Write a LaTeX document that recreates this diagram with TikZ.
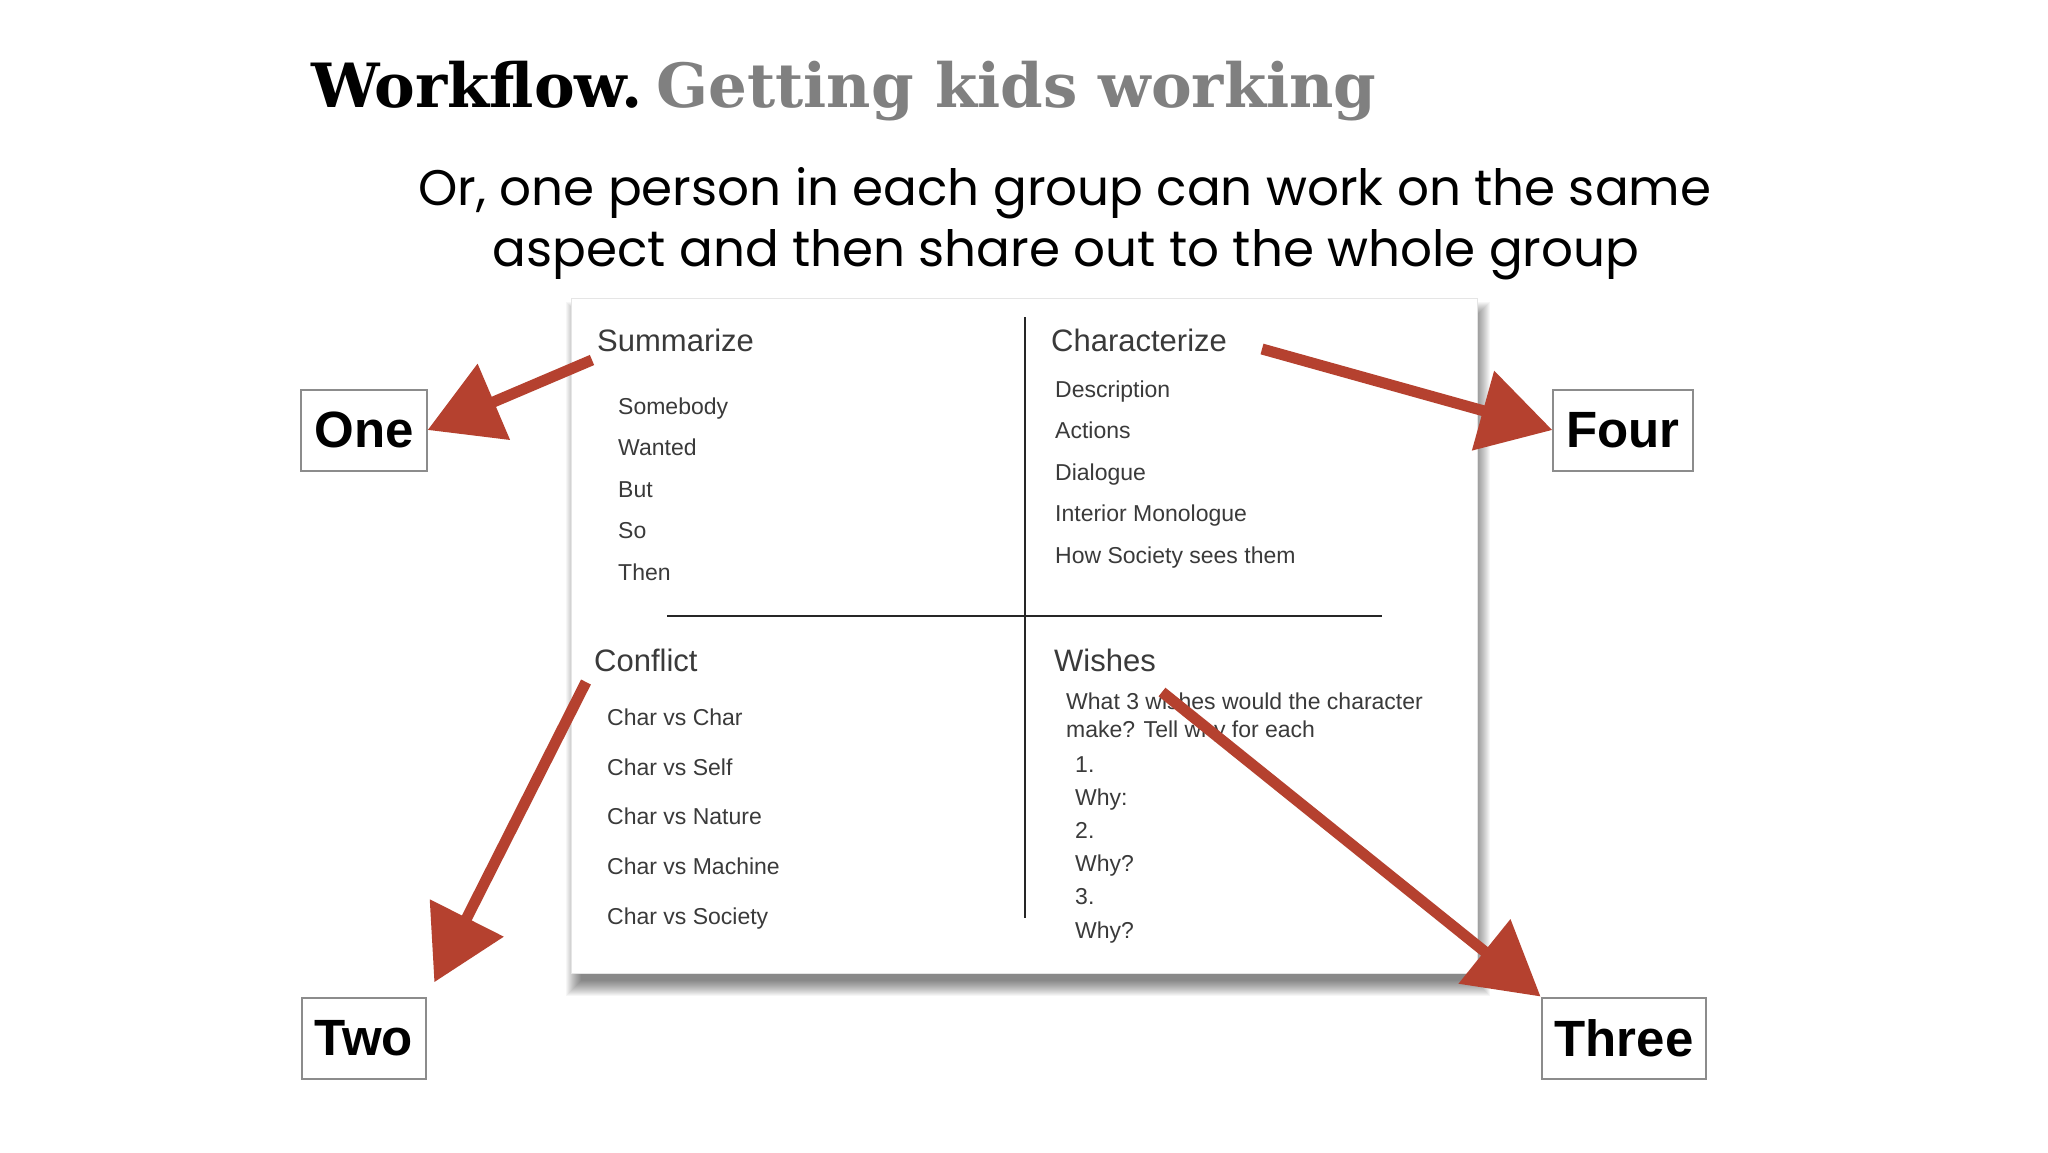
\documentclass[tikz,border=0pt]{standalone}
\usepackage{fontspec}
\setmainfont{Liberation Sans}
\newfontfamily\titlefont{DejaVu Serif}
\newfontfamily\leadfont{Poppins}
\usetikzlibrary{arrows.meta}
\definecolor{arrowred}{RGB}{181,65,47}
\definecolor{titlegray}{RGB}{128,128,128}
\definecolor{inkgray}{RGB}{58,58,58}
\definecolor{boxgray}{RGB}{140,140,140}
\tikzset{
  headtxt/.style={anchor=base west, inner sep=0pt, text=inkgray, font=\fontsize{31}{37}\selectfont},
  listtxt/.style={anchor=base west, inner sep=0pt, text=inkgray, font=\fontsize{23}{28}\selectfont},
  numbox/.style={draw=boxgray, line width=2pt, fill=white, inner xsep=13pt, minimum height=81pt, font=\fontsize{51}{61}\selectfont\bfseries},
  redarrow/.style={arrowred, line width=11pt, -{Triangle[length=72pt,width=80pt]}},
}
\begin{document}
\begin{tikzpicture}[x=1pt,y=-1pt]
		\useasboundingbox[fill=white] (0,0) rectangle (2048,1152);
		% heading
		\node[anchor=base west, inner sep=0pt, font=\titlefont\bfseries\fontsize{61}{72}\selectfont] (title) at (311,107) {Workflow.\hspace{14pt}\textcolor{titlegray}{Getting kids working}};
		\node[anchor=base, inner sep=0pt, font=\leadfont\fontsize{50}{61}\selectfont] (lead1) at (1065,205) {Or, one person in each group can work on the same};
		\node[anchor=base, inner sep=0pt, font=\leadfont\fontsize{50}{61}\selectfont] (lead2) at (1066,266) {aspect and then share out to the whole group};
		% the sheet
		\foreach \s in {1,...,16}
			\fill[black, opacity=0.035] (582-\s,318-\s) rectangle (1474+\s,980+\s);
		\node[draw=black!10, fill=white, minimum width=906pt, minimum height=675pt, inner sep=0pt, anchor=north west] (card) at (571,298) {};
		\draw[line width=1.5pt, black!85] (1025,317) -- (1025,918);
		\draw[line width=1.5pt, black!85] (667,616) -- (1382,616);
		% top left
		\node[headtxt] (summ) at (597,351) {Summarize};
		\node[listtxt] (s1) at (618,414) {Somebody};
		\node[listtxt] (s2) at (618,455.5) {Wanted};
		\node[listtxt] (s3) at (618,497) {But};
		\node[listtxt] (s4) at (618,538.5) {So};
		\node[listtxt] (s5) at (618,580) {Then};
		% top right
		\node[headtxt] (char) at (1051,351) {Characterize};
		\node[listtxt] (c1) at (1055,397) {Description};
		\node[listtxt] (c2) at (1055,438.5) {Actions};
		\node[listtxt] (c3) at (1055,480) {Dialogue};
		\node[listtxt] (c4) at (1055,521.5) {Interior Monologue};
		\node[listtxt] (c5) at (1055,563) {How Society sees them};
		% bottom left
		\node[headtxt] (conf) at (594,671) {Conflict};
		\node[listtxt] (k1) at (607,725) {Char vs Char};
		\node[listtxt] (k2) at (607,775) {Char vs Self};
		\node[listtxt] (k3) at (607,824.5) {Char vs Nature};
		\node[listtxt] (k4) at (607,874) {Char vs Machine};
		\node[listtxt] (k5) at (607,924) {Char vs Society};
		% bottom right
		\node[headtxt] (wish) at (1054,671) {Wishes};
		\node[listtxt] (w0) at (1066,709) {What 3 wishes would the character};
		\node[listtxt] (w00) at (1066,737) {make? Tell why for each};
		\node[listtxt] (w1) at (1075,772) {1.};
		\node[listtxt] (w2) at (1075,805) {Why:};
		\node[listtxt] (w3) at (1075,838) {2.};
		\node[listtxt] (w4) at (1075,871) {Why?};
		\node[listtxt] (w5) at (1075,904) {3.};
		\node[listtxt] (w6) at (1075,938) {Why?};
		% group labels
		\node[numbox] (one) at (364,430) {One};
		\node[numbox] (four) at (1623,430) {Four};
		\node[numbox] (two) at (364,1038) {Two};
		\node[numbox] (three) at (1624,1038) {Three};
		% arrows
		\coordinate (sumtail) at (592,360);
		\coordinate (chartail) at (1262,349);
		\coordinate (conftail) at (586,682);
		\coordinate (wishtail) at (1162,692);
		\draw[redarrow] (sumtail) -- (one.east);
		\draw[redarrow] (chartail) -- (four.west);
		\draw[redarrow, shorten >=16pt] (conftail) -- (two.north east);
		\draw[redarrow] (wishtail) -- (three.north west);
\end{tikzpicture}
\end{document}
